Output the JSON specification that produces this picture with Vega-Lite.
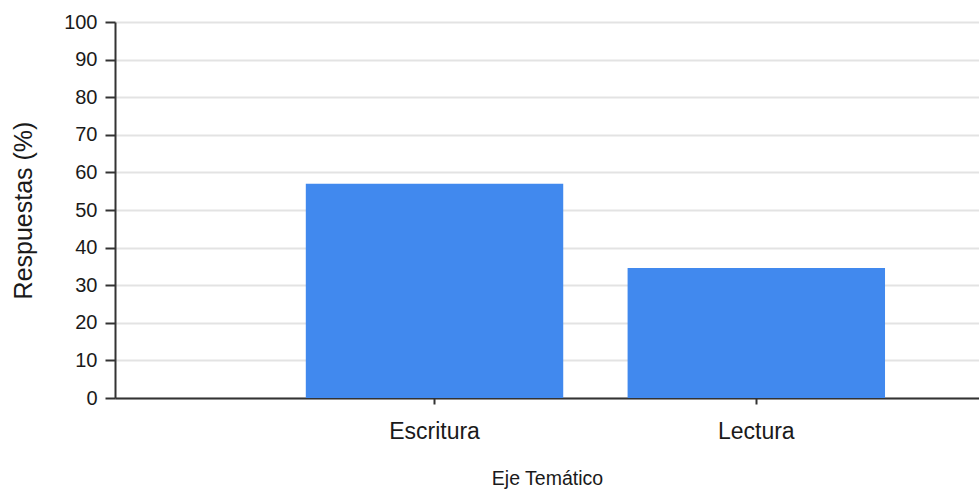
{
  "$schema": "https://vega.github.io/schema/vega-lite/v6.json",
  "autosize": {"type": "none"},
  "padding": {"left": 115, "top": 22, "right": 0, "bottom": 94},
  "width": 864,
  "height": 376,
  "background": "white",
  "data": {"values": [
    {"eje": "Escritura", "respuestas": 57},
    {"eje": "Lectura", "respuestas": 34.6}
  ]},
  "mark": {"type": "bar", "color": "#4189ee"},
  "encoding": {
    "x": {
      "field": "eje", "type": "nominal", "sort": null,
      "scale": {"paddingInner": 0.2, "paddingOuter": 0.4425, "align": 0.67},
      "axis": {
        "title": "Eje Temático",
        "labelAngle": 0,
        "labelFont": "Liberation Sans",
        "labelFontSize": 23,
        "labelColor": "#1a1a1a",
        "labelPadding": 16,
        "titleFont": "Liberation Sans",
        "titleFontSize": 19.5,
        "titleFontWeight": "normal",
        "titleColor": "#1a1a1a",
        "titlePadding": 26,
        "domainColor": "#333333",
        "domainWidth": 2,
        "tickColor": "#333333",
        "tickWidth": 2,
        "tickSize": 6,
        "grid": false
      }
    },
    "y": {
      "field": "respuestas", "type": "quantitative",
      "scale": {"domain": [0, 100], "nice": false},
      "axis": {
        "title": "Respuestas (%)",
        "values": [0, 10, 20, 30, 40, 50, 60, 70, 80, 90, 100],
        "labelFont": "Liberation Sans",
        "labelFontSize": 20,
        "labelColor": "#1a1a1a",
        "labelPadding": 8,
        "titleFont": "Liberation Sans",
        "titleFontSize": 25,
        "titleFontWeight": "normal",
        "titleColor": "#1a1a1a",
        "titlePadding": 27,
        "domainColor": "#333333",
        "domainWidth": 2,
        "tickColor": "#333333",
        "tickWidth": 2,
        "tickSize": 10,
        "grid": true,
        "gridColor": "#e3e3e3",
        "gridWidth": 2
      }
    }
  },
  "config": {"view": {"stroke": null}}
}
